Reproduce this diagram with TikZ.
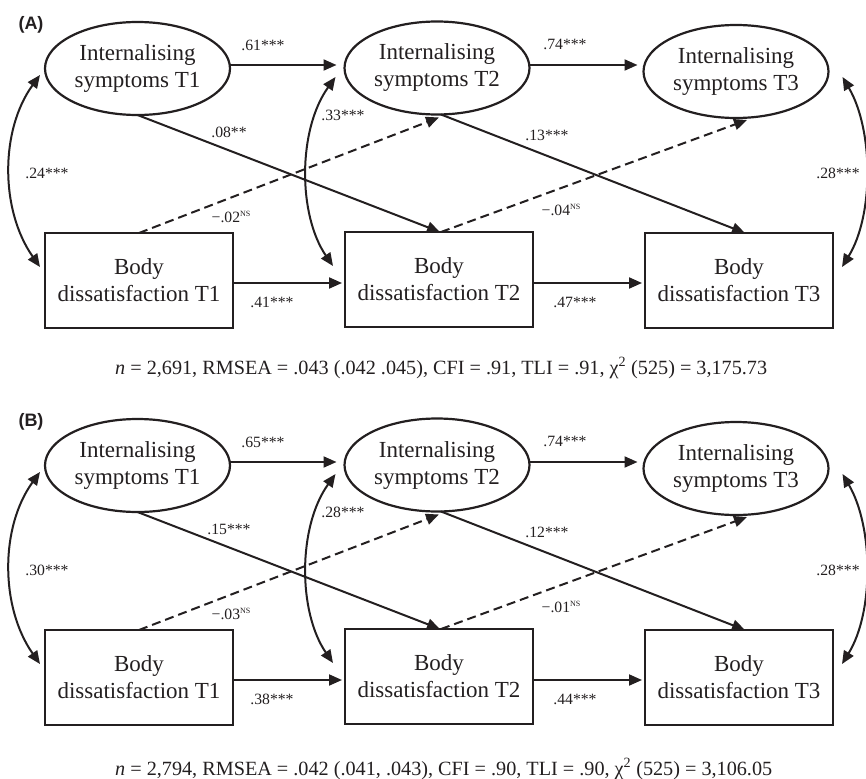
\documentclass[tikz,border=0pt]{standalone}
\usepackage{fontspec}
\setmainfont{Liberation Serif}
\setsansfont{Liberation Sans}
\usetikzlibrary{shapes.geometric,arrows.meta,calc}
\definecolor{ink}{RGB}{35,31,32}
\tikzset{
 latent/.style={ellipse, draw=ink, line width=2.2pt, minimum width=185pt, minimum height=93pt, inner sep=0pt, outer sep=0pt, align=center, font=\fontsize{23}{27}\selectfont, text=ink},
 observed/.style={rectangle, draw=ink, line width=2.2pt, minimum width=188pt, minimum height=95pt, inner sep=0pt, outer sep=0pt, align=center, font=\fontsize{23}{27}\selectfont, text=ink},
 regarr/.style={draw=ink, line width=2pt, -{Triangle[length=13pt,width=11pt]}},
 nsarr/.style={regarr, dash pattern=on 9pt off 5pt},
 covarr/.style={draw=ink, line width=2pt, {Triangle[length=13pt,width=11pt]}-{Triangle[length=13pt,width=11pt]}},
 coef/.style={font=\fontsize{15.7}{16}\selectfont, text=ink, inner sep=0pt},
 panellbl/.style={font=\sffamily\bfseries\fontsize{18}{20}\selectfont, text=ink, inner sep=0pt},
 fitlbl/.style={font=\fontsize{20.2}{22}\selectfont, text=ink, inner sep=0pt, anchor=base west}
}
\newcommand{\nsmark}{\raisebox{0.42em}{\fontsize{8}{8}\selectfont NS}}
\newcommand{\drawpanel}[2]{%
\begin{scope}[shift={(0,#2)}]
\node[panellbl] (#1lab) at (31,25) {(#1)};
\node[latent] (#1I1) at (137.5,68.5) {Internalising\\symptoms T1};
\node[latent] (#1I2) at (437,68) {Internalising\\symptoms T2};
\node[latent] (#1I3) at (736,71.5) {Internalising\\symptoms T3};
\node[observed] (#1B1) at (139,280.5) {Body\\dissatisfaction T1};
\node[observed] (#1B2) at (439,279.5) {Body\\dissatisfaction T2};
\node[observed] (#1B3) at (739,280.5) {Body\\dissatisfaction T3};
% autoregressive paths
\draw[regarr] ($(#1I1.east)+(0,-3.5)$) -- ($(#1I2.west)+(-8,-3)$);
\draw[regarr] ($(#1I2.east)+(0,-3)$) -- ($(#1I3.west)+(-6,-6.5)$);
\draw[regarr] ($(#1B1.east)+(0,2.5)$) -- ($(#1B2.west)+(-3,3.5)$);
\draw[regarr] ($(#1B2.east)+(0,3.5)$) -- ($(#1B3.west)+(-3,2.5)$);
% cross-lagged paths
\draw[regarr] (#1I1.south) -- ($(#1B2.north)+(1,0)$);
\draw[regarr] ($(#1I2.south)+(4,0)$) -- ($(#1B3.north)+(6,0)$);
\draw[nsarr] (#1B1.north) -- ($(#1I2.south)+(2,3)$);
\draw[nsarr] ($(#1B2.north)+(2,0)$) -- ($(#1I3.south)+(11,2)$);
% covariances
\draw[covarr] ($(#1I1.west)+(-5,6.5)$) .. controls +(-40,55) and +(-40,-57) .. ($(#1B1.west)+(-5,-13.5)$);
\draw[covarr] ($(#1I2.west)+(-9,9)$) .. controls +(-38,53) and +(-35,-51) .. ($(#1B2.west)+(-12,-13.5)$);
\draw[covarr] ($(#1I3.east)+(14,5.5)$) .. controls +(31,53) and +(32,-52) .. ($(#1B3.east)+(9,-13.5)$);
% coefficients
\node[coef] (#1c1) at (263,45) {\lIab};
\node[coef] (#1c2) at (565,44) {\lIbc};
\node[coef] (#1c3) at (229,132) {\lIaBb};
\node[coef] (#1c4) at (547,135) {\lIbBc};
\node[coef] (#1c5) at (231,217) {\lBaIb};
\node[coef] (#1c6) at (561,210) {\lBbIc};
\node[coef] (#1c7) at (272,302) {\lBab};
\node[coef] (#1c8) at (575,302) {\lBbc};
\node[coef] (#1c9) at (47,173) {\cL};
\node[coef] (#1c10) at (343,115) {\cM};
\node[coef] (#1c11) at (838,173) {\cR};
\end{scope}}
\begin{document}
\begin{tikzpicture}[x=1pt,y=-1pt]
\useasboundingbox (0,0) rectangle (866,778);
\def\lIab{.61***}\def\lIbc{.74***}\def\lIaBb{.08**}\def\lIbBc{.13***}%
\def\lBaIb{−.02\nsmark}\def\lBbIc{−.04\nsmark}\def\lBab{.41***}\def\lBbc{.47***}%
\def\cL{.24***}\def\cM{.33***}\def\cR{.28***}%
\drawpanel{A}{0}
\def\lIab{.65***}\def\lIbc{.74***}\def\lIaBb{.15***}\def\lIbBc{.12***}%
\def\lBaIb{−.03\nsmark}\def\lBbIc{−.01\nsmark}\def\lBab{.38***}\def\lBbc{.44***}%
\def\cL{.30***}\def\cM{.28***}\def\cR{.28***}%
\drawpanel{B}{397}
\node[fitlbl] (fitA) at (115,374) {\textit{n} = 2,691, RMSEA = .043 (.042 .045), CFI = .91, TLI = .91, χ\textsuperscript{2} (525) = 3,175.73};
\node[fitlbl] (fitB) at (115,775) {\textit{n} = 2,794, RMSEA = .042 (.041, .043), CFI = .90, TLI = .90, χ\textsuperscript{2} (525) = 3,106.05};
\end{tikzpicture}
\end{document}
